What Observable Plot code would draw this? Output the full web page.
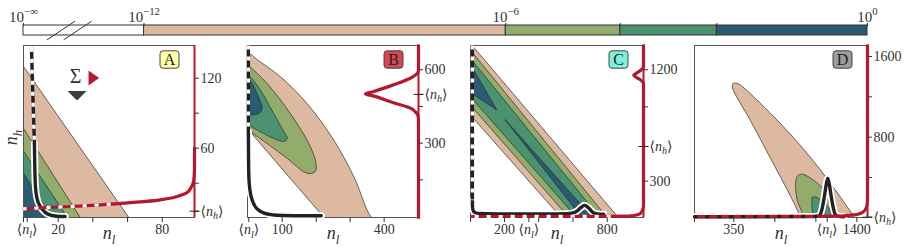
<!DOCTYPE html>
<html><head><meta charset="utf-8">
<script src="https://cdn.jsdelivr.net/npm/d3@7"></script>
<script src="https://cdn.jsdelivr.net/npm/@observablehq/plot@0.6"></script>
<style>
html,body{margin:0;padding:0;background:#fff;}
#root{position:relative;width:906px;height:248px;overflow:hidden;background:#fff;}
#root > div{position:absolute;}
#root svg{background:none!important;max-width:none!important;overflow:visible;}
</style></head><body><div id="root"></div>
<script>
// ---------------- DATA ----------------
// colour bar: log10 probability thresholds
const cbBreakLevel = -14;            // stands for 10^-inf
const cbLevels = [-12, -6, -4.1, -2.5, 0];
const cbColors = ["#dcb9a0", "#93ac6c", "#4b9271", "#2c5a72"];
const cbTicks = [-14, -12, -6, 0];
const cbTickLabels = ["10^{−∞}", "10^{−12}", "10^{−6}", "10^{0}"];
const cbMinorTicks = [-4.1, -2.5];
const cbBreakAt = [-13.24];

// Panel A  (x = n_l, y = n_h)
const aXDomain = [0, 98.6], aYDomain = [0.6, 148];
const aTan = [[-5,140.7],[65,-8.5],[-5,-8.5]];
const aLightGreen = [[-5,88.7],[36.6,-8.5],[-5,-8.5]];
const aMidGreen = [[-5,68.8],[29.3,-8.5],[-5,-8.5]];
const aDarkBlue = [[-5,50.2],[20.1,-8.5],[-5,-8.5]];
const aBlackDashed = [[4.6,146],[5.5,100],[6.3,64]];
const aBlackSolid = [[6.3,64],[6.5,45],[6.9,27],[7.8,17],[9.8,9.8],[12.5,5],[15.6,2.6],[19.4,1.7],[24,1.4]];
const aRedDashed = [[-0.5,8],[15,9.2],[35,10.6],[53,12.3]];
const aRedSolid = [[53,12.3],[65,13.7],[78,15.5],[86,17.5],[91,19.8],[94.3,22],[96.5,26],[97.8,30],[98.4,36],[98.6,45],[98.6,60]];
const aXTicks = [0, 2.1, 20, 40, 60, 80];
const aXLabels = ["", "⟨n_l⟩", "20", "", "", "80"];
const aYTicks = [6, 30, 60, 90, 120];
const aYLabels = ["⟨n_h⟩", "", "60", "", "120"];
const aMeanNh = [6];
const aSigma = [[30, 121.5]];
const aRedTriangle = [[40.4, 120.2]];
const aDarkTriangle = [[30.9, 105.2]];

// Panel B
const bXDomain = [-2, 501], bYDomain = [-4, 699];
const bTan = [[-30,640],[-5,662],[8,663],[20,648],[95,571],[173,462],[252,312],[311,162],[355,12],[381,-40],[245,-40],[218,4],[110,178],[2,353],[-30,405]];
const bLightGreen = [[-30,650],[5,612],[56,543],[124,421],[183,285],[200,212],[196,182],[173,177],[115,237],[56,298],[7,346],[-30,380]];
const bMidGreen = [[-30,610],[2,577],[36,516],[75,421],[105,346],[115,319],[105,307],[75,319],[36,346],[2,373],[-30,395]];
const bDarkBlue = [[-30,600],[2,564],[21.5,516],[36,469],[41,441],[31,421],[2,414],[-30,410]];
const bBlackDashed = [[0.5,699],[0.5,346]];
const bBlackSolid = [[0.5,346],[1,250],[2,162],[5,110],[12,67],[20,42],[31,26],[45,15],[66,8],[105,4],[160,3],[215,3]];
const bRedSolid = [[501,-4],[501,395],[499,415],[490,430],[482,440],[423,467],[365,494],[345,501],[365,509],[423,536],[477,565],[492,578],[499,588],[501,600],[501,699]];
const bXTicks = [1.8, 100, 200, 300, 400];
const bXLabels = ["⟨n_l⟩", "100", "", "", "400"];
const bYTicks = [150, 300, 450, 499, 600];
const bYLabels = ["", "300", "", "⟨n_h⟩", "600"];
const bMeanNh = [499];

// Panel C
const cXDomain = [1, 1012], cYDomain = [6, 1396];
const cTan = [[-10,1430],[875,-10],[541,-10],[-10,850]];
const cLightGreen = [[-10,1377],[809,-10],[586,-10],[-10,930]];
const cMidGreen = [[-10,1309],[766,-10],[631,-10],[-10,998]];
const cDarkBlue1 = [[-10,1250],[9,1224],[155,875],[9,1008],[-10,1025]];
const cDarkBlue2 = [[204,795],[702,25],[712,-10],[636,-10],[640,25]];
const cBlackDashed = [[12,1396],[12,146]];
const cBlackSolid = [[12,146],[13,90],[18,58],[30,44],[50,38],[150,35],[300,34],[450,34],[560,36],[600,43],[625,60],[645,85],[668,104],[690,85],[708,58],[722,42],[745,35],[780,33]];
const cRedSolid = [[1012,1396],[1012,1225],[1000,1200],[970,1172],[955,1156],[970,1140],[1000,1112],[1012,1088],[1012,110],[1009,75],[998,45],[975,28],[943,20],[905,17],[820,15]];
const cRedDashed = [[820,15],[1,14]];
const cXTicks = [1, 200, 342, 400, 600, 800];
const cXLabels = ["", "200", "⟨n_l⟩", "", "", "800"];
const cYTicks = [300, 580, 900, 1200];
const cYLabels = ["300", "⟨n_h⟩", "", "1200"];
const cMeanNh = [580];

// Panel D
const dXDomain = [14, 1491], dYDomain = [4, 1709];
const dTan = [[345,1335],[380,1331],[407,1316],[692,1002],[977,638],[1176,341],[1318,110],[1375,11],[1400,-60],[945,-60],[922,0],[834,215],[663,590],[493,962],[336,1300]];
const dLightGreen = [[919,433],[962,423],[1062,345],[1150,240],[1210,120],[1240,20],[1252,-60],[945,-60],[934,44],[891,176],[877,341],[890,410]];
const dMidGreen = [[1022,205],[1060,202],[1110,162],[1160,100],[1190,30],[1200,-60],[1030,-60],[1022,60],[1015,150]];
const dBlackSolid = [[14,12],[500,12],[1000,13],[1060,15],[1085,30],[1105,100],[1125,230],[1140,340],[1152,390],[1164,340],[1179,230],[1199,100],[1219,30],[1244,15],[1290,12]];
const dRedSolid = [[1491,1709],[1491,200],[1489,145],[1480,100],[1460,65],[1430,45],[1375,30],[1300,22],[1233,18],[1062,15]];
const dRedDashed = [[1062,15],[14,13]];
const dXTicks = [14, 350, 700, 1050, 1147, 1400];
const dXLabels = ["", "350", "", "", "⟨n_l⟩", "1400"];
const dYTicks = [7, 400, 800, 1200, 1600];
const dYLabels = ["⟨n_h⟩", "", "800", "", "1600"];
const dMeanNh = [7];

const panelLetters = ["A", "B", "C", "D"];
const panelBoxColors = ["#ffffa6", "#d94558", "#7ff0dd", "#9c9c9c"];

// ---------------- DRAWING ----------------
const RED = "#b3182e", BLACK = "#222";
const [TAN, LG, MG, DB] = cbColors;
const FONT = "'Liberation Serif', 'DejaVu Serif', serif";
const FT = 45, FB = 217;
const root = document.getElementById("root");

const fmt = (ticks, labels) => { const m = new Map(ticks.map((t, i) => [t, labels[i]])); return d => m.get(d) ?? ""; };
const X = d => d[0], Y = d => d[1];
const hTickSym = {draw(ctx) { ctx.moveTo(-5, 0); ctx.lineTo(5, 0); }};
const roundBox = {draw(ctx) {
  const w = 9.5, h = 8.7, r = 3;
  ctx.moveTo(-w + r, -h); ctx.lineTo(w - r, -h); ctx.arcTo(w, -h, w, -h + r, r);
  ctx.lineTo(w, h - r); ctx.arcTo(w, h, w - r, h, r); ctx.lineTo(-w + r, h);
  ctx.arcTo(-w, h, -w, h - r, r); ctx.lineTo(-w, -h + r); ctx.arcTo(-w, -h, -w + r, -h, r); ctx.closePath();
}};
const triRight = {draw(ctx) { ctx.moveTo(-5, -7.5); ctx.lineTo(5.5, 0); ctx.lineTo(-5, 7.5); ctx.closePath(); }};
const triDown = {draw(ctx) { ctx.moveTo(-9.5, -4.5); ctx.lineTo(9.5, -4.5); ctx.lineTo(0, 5); ctx.closePath(); }};
const breakSym = {draw(ctx) { for (const o of [-8.3, 8.3]) { ctx.moveTo(o - 14, 9.3); ctx.lineTo(o + 14, -9.3); } }};

function parseRich(s) {
  const segs = []; let i = 0;
  while (i < s.length) {
    const c = s[i];
    if ((c === "^" || c === "_") && i + 1 < s.length) {
      let content;
      if (s[i + 1] === "{") { const j = s.indexOf("}", i + 2); content = s.slice(i + 2, j); i = j + 1; }
      else { content = s[i + 1]; i += 2; }
      segs.push({t: content, mode: c === "^" ? "sup" : "sub"});
    } else {
      let j = i; while (j < s.length && s[j] !== "^" && s[j] !== "_") j++;
      segs.push({t: s.slice(i, j), mode: "base"}); i = j;
    }
  }
  const out = [];
  for (const seg of segs) {
    const re = /([A-Za-z]+|[^A-Za-z]+)/g; let m;
    while ((m = re.exec(seg.t))) out.push({t: m[0], mode: seg.mode, it: /[A-Za-z]/.test(m[0])});
  }
  return out;
}
function richify(svg) {
  svg.querySelectorAll("text").forEach(el => {
    const s = el.textContent;
    if (!/[\^_]/.test(s)) return;
    const fs = parseFloat(getComputedStyle(el).fontSize) || 14;
    el.textContent = "";
    let cur = 0;
    for (const p of parseRich(s)) {
      const ts = document.createElementNS("http://www.w3.org/2000/svg", "tspan");
      const off = p.mode === "sup" ? -0.42 * fs : p.mode === "sub" ? 0.25 * fs : 0;
      if (off !== cur) { ts.setAttribute("dy", off - cur); cur = off; }
      if (p.mode !== "base") ts.setAttribute("font-size", 0.72 * fs);
      if (p.it) ts.setAttribute("font-style", "italic");
      ts.textContent = p.t;
      el.appendChild(ts);
    }
  });
}
function place(svg, left, top) {
  const div = document.createElement("div");
  div.style.left = left + "px"; div.style.top = top + "px";
  div.appendChild(svg); root.appendChild(div); richify(svg);
}
const baseStyle = {fontFamily: FONT, fontSize: "14px", color: "#333", background: "transparent", overflow: "visible", maxWidth: "none"};

// colour bar
const cbEdges = [cbBreakLevel, ...cbLevels];
const cbSegments = cbEdges.slice(0, -1).map((e, i) => ({x1: e, x2: cbEdges[i + 1], fill: i === 0 ? "white" : cbColors[i - 1]}));
const cbAllTicks = [...cbTicks, ...cbMinorTicks];
const cbAllLabels = [...cbTickLabels, ...cbMinorTicks.map(() => "")];
place(Plot.plot({
  width: 906, height: 40, marginLeft: 23, marginRight: 39, marginTop: 25, marginBottom: 5,
  x: {domain: [cbBreakLevel, 0]}, color: {type: "identity"},
  style: {...baseStyle, fontSize: "15px"},
  marks: [
    Plot.rect(cbSegments, {x1: "x1", x2: "x2", fill: "fill", stroke: "#333", strokeWidth: 1}),
    Plot.axisX({anchor: "top", ticks: cbAllTicks, tickFormat: fmt(cbAllTicks, cbAllLabels), tickSize: 3, tickPadding: 1, fontSize: 15, label: null}),
    Plot.dot(cbBreakAt, {x: d => d, symbol: breakSym, stroke: "#333", fill: "none", strokeWidth: 1})
  ]
}), 0, 0);

function panel(o) {
  const ml = 22, mr = 45, mt = 8, mb = 31;
  const marks = [];
  for (const [pts, col, curve] of o.regions)
    marks.push(Plot.line(pts, {x: X, y: Y, fill: col, stroke: "#2b2b2b", strokeWidth: 0.7, curve, clip: true}));
  marks.push(Plot.frame({stroke: "#555", strokeWidth: 1}));
  if (o.blackSolid) {
    marks.push(Plot.line(o.blackSolid, {x: X, y: Y, stroke: "white", strokeWidth: 7, curve: "monotone-x"}));
    marks.push(Plot.line(o.blackSolid, {x: X, y: Y, stroke: BLACK, strokeWidth: 3.4, curve: "monotone-x"}));
  }
  if (o.blackDashed) {
    marks.push(Plot.line(o.blackDashed, {x: X, y: Y, stroke: BLACK, strokeWidth: 3.4, strokeLinecap: "butt", curve: "monotone-y"}));
    marks.push(Plot.line(o.blackDashed, {x: X, y: Y, stroke: "white", strokeWidth: 3.4, strokeLinecap: "butt", strokeDasharray: "4 7", curve: "monotone-y"}));
  }
  marks.push(Plot.ruleX([o.xDomain[1]], {stroke: RED, strokeWidth: 2}));
  if (o.redSolid) marks.push(Plot.line(o.redSolid, {x: X, y: Y, stroke: RED, strokeWidth: 3.2, curve: "monotone-y"}));
  if (o.redDashed) {
    marks.push(Plot.line(o.redDashed, {x: X, y: Y, stroke: RED, strokeWidth: 3.2, strokeLinecap: "butt", curve: "monotone-y"}));
    marks.push(Plot.line(o.redDashed, {x: X, y: Y, stroke: o.redGap, strokeWidth: 3.2, strokeLinecap: "butt", strokeDasharray: "4 8", curve: "monotone-y"}));
  }
  marks.push(Plot.axisX({anchor: "bottom", ticks: o.xTicks, tickFormat: fmt(o.xTicks, o.xLabels), tickSize: 5, tickPadding: 2, fontSize: 14, label: null}));
  marks.push(Plot.axisY({anchor: "right", ticks: o.yTicks, tickFormat: fmt(o.yTicks, o.yLabels), tickSize: 4, tickPadding: 2, fontSize: 14, label: null}));
  marks.push(Plot.dot(o.meanNh, {frameAnchor: "right", y: d => d, symbol: hTickSym, stroke: "#222", strokeWidth: 1}));
  marks.push(Plot.dot([o.letter], {frameAnchor: "top-right", dx: -25, dy: 14, symbol: roundBox, fill: o.boxColor, stroke: "#444", strokeWidth: 1}));
  marks.push(Plot.text([o.letter], {frameAnchor: "top-right", dx: -25, dy: 14.5, textAnchor: "middle", lineAnchor: "middle", fontSize: 16, fill: "#222"}));
  marks.push(Plot.text(["n_l"], {frameAnchor: "bottom", dy: 16, textAnchor: "middle", lineAnchor: "middle", fontSize: 18, fill: "#333"}));
  if (o.extra) marks.push(...o.extra);
  const svg = Plot.plot({
    width: o.frameR - o.frameL + ml + mr, height: FB - FT + mt + mb,
    marginLeft: ml, marginRight: mr, marginTop: mt, marginBottom: mb,
    x: {domain: o.xDomain}, y: {domain: o.yDomain},
    style: baseStyle, marks
  });
  place(svg, o.frameL - ml, FT - mt);
}

panel({
  frameL: 23, frameR: 194, xDomain: aXDomain, yDomain: aYDomain,
  regions: [[aTan, TAN, "linear-closed"], [aLightGreen, LG, "linear-closed"], [aMidGreen, MG, "linear-closed"], [aDarkBlue, DB, "linear-closed"]],
  blackSolid: aBlackSolid, blackDashed: aBlackDashed, redSolid: aRedSolid, redDashed: aRedDashed, redGap: "white",
  xTicks: aXTicks, xLabels: aXLabels, yTicks: aYTicks, yLabels: aYLabels, meanNh: aMeanNh,
  letter: panelLetters[0], boxColor: panelBoxColors[0],
  extra: [
    Plot.text(["n_h"], {frameAnchor: "left", dx: -12, dy: 6, rotate: -90, textAnchor: "middle", lineAnchor: "middle", fontSize: 18, fill: "#333"}),
    Plot.text(aSigma, {x: X, y: Y, text: () => "Σ", fontSize: 20, fill: "#333"}),
    Plot.dot(aRedTriangle, {x: X, y: Y, symbol: triRight, fill: RED, stroke: "none"}),
    Plot.dot(aDarkTriangle, {x: X, y: Y, symbol: triDown, fill: "#3d3d3d", stroke: "none"})
  ]
});
panel({
  frameL: 247, frameR: 418, xDomain: bXDomain, yDomain: bYDomain,
  regions: [[bTan, TAN, "catmull-rom-closed"], [bLightGreen, LG, "catmull-rom-closed"], [bMidGreen, MG, "catmull-rom-closed"], [bDarkBlue, DB, "catmull-rom-closed"]],
  blackSolid: bBlackSolid, blackDashed: bBlackDashed, redSolid: bRedSolid,
  xTicks: bXTicks, xLabels: bXLabels, yTicks: bYTicks, yLabels: bYLabels, meanNh: bMeanNh,
  letter: panelLetters[1], boxColor: panelBoxColors[1]
});
panel({
  frameL: 470, frameR: 643, xDomain: cXDomain, yDomain: cYDomain,
  regions: [[cTan, TAN, "linear-closed"], [cLightGreen, LG, "linear-closed"], [cMidGreen, MG, "linear-closed"], [cDarkBlue1, DB, "linear-closed"], [cDarkBlue2, DB, "linear-closed"]],
  blackSolid: cBlackSolid, blackDashed: cBlackDashed, redSolid: cRedSolid, redDashed: cRedDashed, redGap: "white",
  xTicks: cXTicks, xLabels: cXLabels, yTicks: cYTicks, yLabels: cYLabels, meanNh: cMeanNh,
  letter: panelLetters[2], boxColor: panelBoxColors[2]
});
panel({
  frameL: 694, frameR: 867, xDomain: dXDomain, yDomain: dYDomain,
  regions: [[dTan, TAN, "catmull-rom-closed"], [dLightGreen, LG, "catmull-rom-closed"], [dMidGreen, MG, "catmull-rom-closed"]],
  blackSolid: dBlackSolid, redSolid: dRedSolid, redDashed: dRedDashed, redGap: "#222",
  xTicks: dXTicks, xLabels: dXLabels, yTicks: dYTicks, yLabels: dYLabels, meanNh: dMeanNh,
  letter: panelLetters[3], boxColor: panelBoxColors[3]
});
</script></body></html>
